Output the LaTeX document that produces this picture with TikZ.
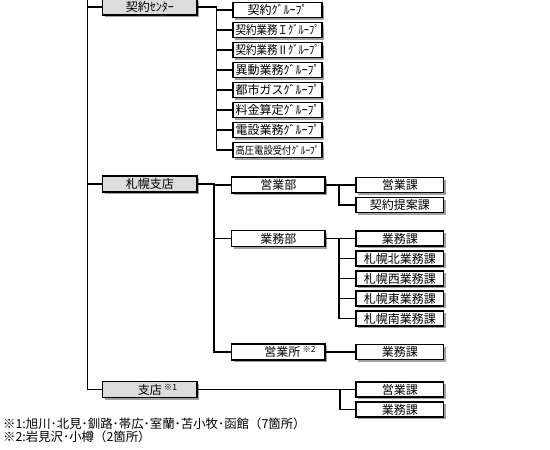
\documentclass[tikz,border=0pt]{standalone}
\usepackage{fontspec}
\usepackage{graphicx}
\setmainfont{Noto Sans CJK JP}
\usetikzlibrary{shadows}
\definecolor{boxgray}{HTML}{DCDCDC}
\definecolor{shadowgray}{HTML}{A0A0A0}
\newsavebox\fitbx
\newcommand\fitto[2]{\sbox\fitbx{#2}\ifdim\wd\fitbx>#1\relax\resizebox{#1}{\height}{\usebox\fitbx}\else\usebox\fitbx\fi}
\newcommand\note[1]{\rlap{\,\raisebox{4pt}{\fontsize{8.5}{8.5}\selectfont ※#1}}}
\begin{document}
\begin{tikzpicture}[x=1pt,y=-1pt,
  basebox/.style={draw=black, line width=1.1pt, inner sep=0pt, anchor=center,
    font=\fontsize{12}{12}\selectfont,
    drop shadow={shadow xshift=2pt, shadow yshift=-2pt, fill=shadowgray, opacity=1}},
  lonebox/.style={basebox, fill=boxgray, minimum width=94.5pt, minimum height=16pt},
  grpbox/.style={basebox, fill=white, minimum width=89pt, minimum height=15pt},
  bubox/.style={basebox, fill=white, minimum width=93.5pt, minimum height=16pt},
  kabox/.style={basebox, fill=white, minimum width=87.5pt, minimum height=15pt},
  conn/.style={line width=1.1pt, draw=black},
  notetext/.style={anchor=west, inner sep=0pt, font=\fontsize{12.4}{12.4}\selectfont}]
\useasboundingbox (0,0) rectangle (550,450);
% trunk coordinates
\coordinate (trunk) at (87.5,0);
\coordinate (kv) at (216.5,0);
\coordinate (sv) at (214,0);
\coordinate (bv) at (339,0);
\coordinate (tv) at (340,0);
% level 1
\node[lonebox] (kc) at (149.75,7) {契約ｾﾝﾀｰ};
\node[lonebox] (sp) at (149.75,184) {札幌支店};
\node[lonebox] (st) at (149.75,389.5) {支店\note{1}};
% groups
\node[grpbox] (g1) at (277.5,10) {\fitto{84pt}{契約ｸﾞﾙｰﾌﾟ}};
\node[grpbox] (g2) at (277.5,30) {\fitto{84pt}{契約業務Ｉｸﾞﾙｰﾌﾟ}};
\node[grpbox] (g3) at (277.5,50) {\fitto{84pt}{契約業務Ⅱｸﾞﾙｰﾌﾟ}};
\node[grpbox] (g4) at (277.5,70) {\fitto{84pt}{異動業務ｸﾞﾙｰﾌﾟ}};
\node[grpbox] (g5) at (277.5,90) {\fitto{84pt}{都市ガスｸﾞﾙｰﾌﾟ}};
\node[grpbox] (g6) at (277.5,110) {\fitto{84pt}{料金算定ｸﾞﾙｰﾌﾟ}};
\node[grpbox] (g7) at (277.5,130) {\fitto{84pt}{電設業務ｸﾞﾙｰﾌﾟ}};
\node[grpbox] (g8) at (277.5,150) {\fitto{84pt}{\fontsize{10.5}{10.5}\selectfont 高圧電設受付ｸﾞﾙｰﾌﾟ}};
% departments
\node[bubox] (eb) at (278.25,185) {営業部};
\node[bubox] (gb) at (278.25,238.5) {業務部};
\node[bubox] (es) at (278.25,352) {\hspace*{8pt}営業所\note{2}};
% sections
\node[kabox] (k1) at (399.75,185) {営業課};
\node[kabox] (k2) at (399.75,205) {契約提案課};
\node[kabox] (k3) at (399.75,238.5) {業務課};
\node[kabox] (k4) at (399.75,258.5) {札幌北業務課};
\node[kabox] (k5) at (399.75,278.5) {札幌西業務課};
\node[kabox] (k6) at (399.75,298.5) {札幌東業務課};
\node[kabox] (k7) at (399.75,318.5) {札幌南業務課};
\node[kabox] (k8) at (399.75,352) {業務課};
\node[kabox] (k9) at (399.75,389.5) {営業課};
\node[kabox] (k10) at (399.75,409.5) {業務課};
% connectors: trunk
\draw[conn] (trunk) |- (st.west);
\draw[conn] (kc.west -| trunk) -- (kc.west);
\draw[conn] (sp.west -| trunk) -- (sp.west);
% keiyaku center
\draw[conn] (kc.east) -- (kc.east -| kv) |- (g8.west);
\foreach \g in {g1,g2,g3,g4,g5,g6,g7}{\draw[conn] (\g.west -| kv) -- (\g.west);}
% sapporo
\draw[conn] (sp.east) -- (sp.east -| sv) |- (es.west);
\draw[conn] (eb.west -| sv) -- (eb.west);
\draw[conn] (gb.west -| sv) -- (gb.west);
% eigyobu
\draw[conn] (eb.east) -- (k1.west);
\draw[conn] (eb.east -| bv) |- (k2.west);
% gyomubu
\draw[conn] (gb.east) -- (k3.west);
\draw[conn] (gb.east -| bv) |- (k7.west);
\foreach \k in {k4,k5,k6}{\draw[conn] (\k.west -| bv) -- (\k.west);}
% eigyosho
\draw[conn] (es.east) -- (k8.west);
% shiten
\draw[conn] (st.east) -- (k9.west);
\draw[conn] (st.east -| tv) |- (k10.west);
% footnotes
\node[notetext] (n1) at (3,423.5) {※1:旭川･北見･釧路･帯広･室蘭･苫小牧･函館（7箇所）};
\node[notetext] (n2) at (3,437) {※2:岩見沢･小樽（2箇所）};
\end{tikzpicture}
\end{document}
